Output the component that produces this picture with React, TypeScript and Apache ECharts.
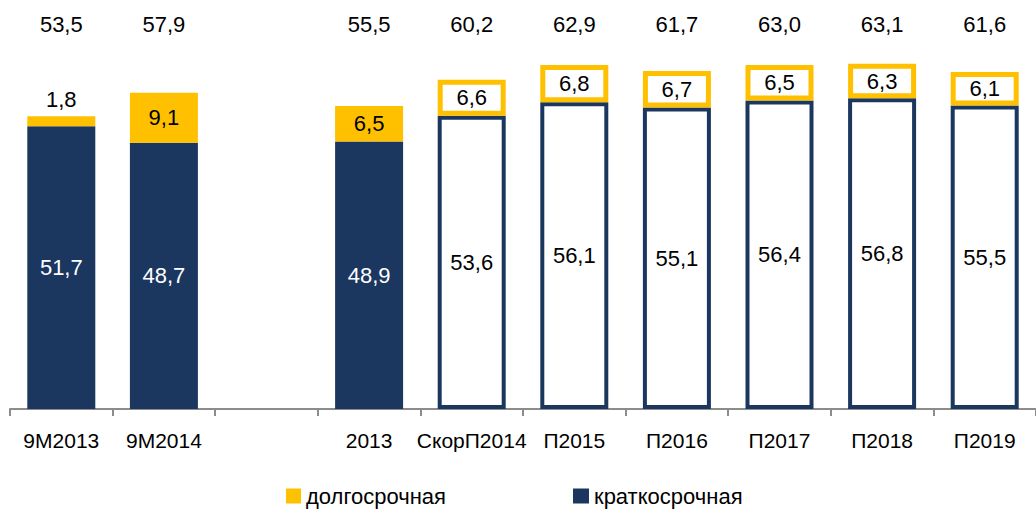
import React, { useEffect, useRef } from "react";
import * as echarts from "echarts";

const categories = ["9M2013", "9M2014", "", "2013", "СкорП2014", "П2015", "П2016", "П2017", "П2018", "П2019"];
const shortTerm = [51.7, 48.7, null, 48.9, 53.6, 56.1, 55.1, 56.4, 56.8, 55.5];
const longTerm = [1.8, 9.1, null, 6.5, 6.6, 6.8, 6.7, 6.5, 6.3, 6.1];
const totals = [53.5, 57.9, null, 55.5, 60.2, 62.9, 61.7, 63.0, 63.1, 61.6];
const isForecast = [false, false, false, false, true, true, true, true, true, true];
const labelAbove = [true, false, false, false, false, false, false, false, false, false];

const NAVY = "#1b365f";
const YELLOW = "#ffc000";
const FONT = "'Liberation Sans', Arial, sans-serif";

const fmt = (v: number | null) => (v == null ? "" : v.toFixed(1).replace(".", ","));

export default function App() {
  const ref = useRef<HTMLDivElement>(null);
  useEffect(() => {
    if (!ref.current) return;
    const chart = echarts.init(ref.current, null, { renderer: "svg" });
    const shortData = shortTerm.map((v, i) =>
      v == null
        ? null
        : {
            value: v,
            itemStyle: isForecast[i]
              ? { color: "#ffffff", borderColor: NAVY, borderWidth: 4 }
              : { color: NAVY },
            label: { color: isForecast[i] ? "#000000" : "#ffffff" },
          }
    );
    const longData = longTerm.map((v, i) =>
      v == null
        ? null
        : {
            value: v,
            itemStyle: isForecast[i]
              ? { color: "#ffffff", borderColor: YELLOW, borderWidth: 5 }
              : { color: YELLOW },
            label: labelAbove[i] ? { position: "top", distance: 6 } : { position: "inside" },
          }
    );
    chart.setOption({
      animation: false,
      textStyle: { fontFamily: FONT },
      grid: { left: 10, right: -4, top: 48, bottom: 101, containLabel: false },
      legend: [
        {
          left: 281,
          top: 480,
          data: ["долгосрочная"],
          icon: "rect",
          itemWidth: 15,
          itemHeight: 15,
          textStyle: { fontFamily: FONT, fontSize: 22, color: "#000" },
        },
        {
          left: 568,
          top: 480,
          data: ["краткосрочная"],
          icon: "rect",
          itemWidth: 16,
          itemHeight: 15,
          textStyle: { fontFamily: FONT, fontSize: 22, color: "#000" },
        },
      ],
      xAxis: [
        {
          type: "category",
          data: categories,
          position: "bottom",
          axisLine: { lineStyle: { color: "#8c8c8c", width: 2 } },
          axisTick: { show: true, length: 7, lineStyle: { color: "#8c8c8c", width: 2 } },
          axisLabel: { interval: 0, color: "#000", fontSize: 21, fontFamily: FONT, margin: 21 },
        },
        {
          type: "category",
          data: totals.map(fmt),
          position: "top",
          axisLine: { show: false },
          axisTick: { show: false },
          axisLabel: { interval: 0, color: "#000", fontSize: 22, fontFamily: FONT, margin: 13 },
        },
      ],
      yAxis: { type: "value", min: 0, max: 66, show: false, splitLine: { show: false } },
      series: [
        {
          name: "краткосрочная",
          type: "bar",
          stack: "total",
          barWidth: 68,
          data: shortData,
          itemStyle: { color: NAVY },
          label: {
            show: true,
            position: "inside",
            fontSize: 22,
            fontFamily: FONT,
            formatter: (p: any) => fmt(p.value),
          },
        },
        {
          name: "долгосрочная",
          type: "bar",
          stack: "total",
          barWidth: 68,
          data: longData,
          itemStyle: { color: YELLOW },
          label: {
            show: true,
            color: "#000",
            fontSize: 22,
            fontFamily: FONT,
            formatter: (p: any) => fmt(p.value),
          },
        },
      ],
    });
    return () => chart.dispose();
  }, []);
  return (
    <div
      ref={ref}
      style={{ position: "absolute", left: 0, top: 0, width: 1036, height: 510, background: "#fff" }}
    />
  );
}
